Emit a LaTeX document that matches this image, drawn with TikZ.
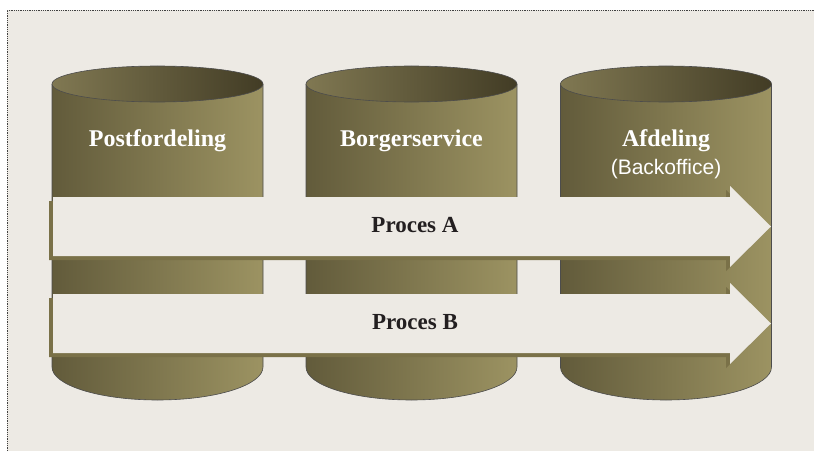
\documentclass[tikz,border=0pt]{standalone}
\usepackage{fontspec}
\setmainfont{Liberation Serif}
\setsansfont{Liberation Sans}

\definecolor{bgcol}{RGB}{237,234,228}
\definecolor{olivedark}{RGB}{98,91,59}
\definecolor{olivelight}{RGB}{156,147,98}
\definecolor{topleft}{RGB}{128,120,82}
\definecolor{topright}{RGB}{66,60,37}
\definecolor{shadowcol}{RGB}{122,113,72}
\definecolor{textdark}{RGB}{35,31,32}

\tikzset{
  head/.style={text=white, anchor=base, inner sep=0pt, font=\bfseries\fontsize{24}{28}\selectfont},
  subhead/.style={text=white, anchor=base, inner sep=0pt, font=\sffamily\fontsize{21}{24}\selectfont},
  proc/.style={text=textdark, anchor=base, inner sep=0pt, font=\bfseries\fontsize{23}{27}\selectfont},
  rim/.style={draw=black!70, line width=0.6pt}
}

\begin{document}
\begin{tikzpicture}[x=1pt,y=1pt]
    \useasboundingbox (0,0) rectangle (814,451);
    % Hintergrund mit gepunktetem Rand
    \fill[bgcol] (7,0) rectangle (814,441);
    \draw[densely dotted, black!75, line width=0.8pt] (7,0) -- (7,441) -- (814,441);

    % Zylinder
    \foreach \cx in {157.5,411.5,666}{
        \shade[left color=olivedark, right color=olivelight]
            (\cx-105.5,367) -- (\cx-105.5,84)
            arc[start angle=180, end angle=360, x radius=105.5, y radius=33]
            -- (\cx+105.5,367) -- cycle;
        \draw[rim] (\cx-105.5,367) -- (\cx-105.5,84)
            arc[start angle=180, end angle=360, x radius=105.5, y radius=33]
            -- (\cx+105.5,367);
        \shadedraw[left color=topleft, right color=topright, rim]
            (\cx,367) ellipse[x radius=105.5, y radius=18];
    }

    \node[head] (post) at (157.5,305) {Postfordeling};
    \node[head] (borger) at (411.5,305) {Borgerservice};
    \node[head] (afd) at (666,305) {Afdeling};
    \node[subhead] (backoffice) at (666,277) {(Backoffice)};

    % Prozesspfeile
    \foreach \cy/\nm/\lab in {224.5/procA/A, 127.5/procB/B}{
        \fill[shadowcol, shift={(-4,-4)}]
            (53,\cy+29.5) -- (730,\cy+29.5) -- (730,\cy+40.5) -- (771,\cy)
            -- (730,\cy-40.5) -- (730,\cy-29.5) -- (53,\cy-29.5) -- cycle;
        \fill[bgcol]
            (53,\cy+29.5) -- (730,\cy+29.5) -- (730,\cy+40.5) -- (771,\cy)
            -- (730,\cy-40.5) -- (730,\cy-29.5) -- (53,\cy-29.5) -- cycle;
        \node[proc] (\nm) at (415,\cy-5.5) {Proces \lab};
    }
\end{tikzpicture}
\end{document}
